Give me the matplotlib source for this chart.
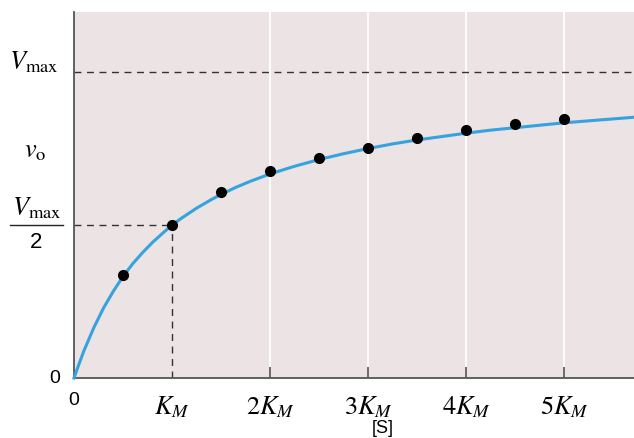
import matplotlib
matplotlib.use("Agg")
import matplotlib.pyplot as plt
from matplotlib.lines import Line2D

plt.rcParams['font.family'] = ['Liberation Sans', 'DejaVu Sans']
plt.rcParams['mathtext.fontset'] = 'stix'

# curve v0 / Vmax against [S] / K_M
curve_s = [0, 0.05, 0.1, 0.2, 0.3, 0.4, 0.5, 0.6, 0.7, 0.8, 0.9, 1.0, 1.1, 1.25,
           1.4, 1.5, 1.65, 1.8, 2.0, 2.25, 2.5, 2.75, 3.0, 3.25, 3.5, 3.75,
           4.0, 4.25, 4.5, 4.75, 5.0, 5.35, 5.71]
curve_v = [0, 0.045, 0.088, 0.163, 0.228, 0.283, 0.332, 0.374, 0.41, 0.443, 0.472,
           0.5, 0.523, 0.555, 0.583, 0.6, 0.623, 0.643, 0.667, 0.692, 0.714, 0.733,
           0.75, 0.765, 0.778, 0.789, 0.8, 0.81, 0.818, 0.826, 0.834, 0.843, 0.852]

# measured points
pts_s = [0.5, 1.0, 1.5, 2.0, 2.5, 3.0, 3.5, 4.0, 4.5, 5.0]
pts_v = [0.337, 0.5, 0.608, 0.676, 0.719, 0.752, 0.784, 0.81, 0.83, 0.846]

xtick_pos = [1, 2, 3, 4, 5]
xtick_labels = ['$K_M$', '$2K_M$', '$3K_M$', '$4K_M$', '$5K_M$']
vmax = 1.0
km = 1.0

fig = plt.figure(figsize=(6.34, 4.39), dpi=100)
ax = fig.add_axes([74/634, 60/439, 560/634, 366/439])
ax.set_facecolor('#ebe3e4')
ax.set_xlim(0, 5.71)
ax.set_ylim(0, 1.196)

for s in xtick_pos[1:]:
    ax.axvline(s, color='white', lw=1.3, zorder=1)

ax.axhline(vmax, color='#333333', lw=1, ls=(0, (5, 4)), zorder=2)
ax.plot([0, km], [vmax/2, vmax/2], color='#333333', lw=1, ls=(0, (5, 4)), zorder=2)
ax.plot([km, km], [0, vmax/2], color='#333333', lw=1, ls=(0, (5, 4)), zorder=2)

ax.plot(curve_s, curve_v, color='#36a2de', lw=2.2, zorder=3, clip_on=False)
ax.plot(pts_s, pts_v, 'o', color='black', ms=7, zorder=4)

for sp in ['top', 'right']:
    ax.spines[sp].set_visible(False)
for sp in ['left', 'bottom']:
    ax.spines[sp].set_color('#555555')
    ax.spines[sp].set_linewidth(1.3)

ax.set_xticks(xtick_pos)
ax.set_xticklabels(xtick_labels, fontsize=19)
ax.tick_params(axis='x', direction='in', length=8, width=1.1, color='#444444', pad=11)
ax.xaxis.get_major_ticks()[0].tick1line.set_visible(False)
ax.set_yticks([])

ax.set_xlabel('[S]', fontsize=13)
ax.xaxis.set_label_coords(0.552, -0.113)

# x "0" label and y-axis labels
tr = ax.get_yaxis_transform()
ax.text(0, -0.035, '0', transform=ax.get_xaxis_transform(), ha='center', va='top', fontsize=14)
ax.text(-0.025, 0, '0', transform=tr, ha='right', va='center', fontsize=14)
ax.text(-0.028, vmax + 0.035, r'$V_{\mathrm{max}}$', transform=tr, ha='right', va='center', fontsize=19)
ax.text(-0.05, 0.745, r'$v_{\mathrm{o}}$', transform=tr, ha='right', va='center', fontsize=19)
ax.text(-0.022, vmax/2 + 0.058, r'$V_{\mathrm{max}}$', transform=tr, ha='right', va='center', fontsize=19)
ax.text(-0.068, vmax/2 - 0.055, '2', transform=tr, ha='center', va='center', fontsize=16)
ax.add_line(Line2D([-0.115, -0.02], [vmax/2, vmax/2], transform=tr, color='#222222', lw=1, clip_on=False))

fig.savefig('out.png', dpi=100)
